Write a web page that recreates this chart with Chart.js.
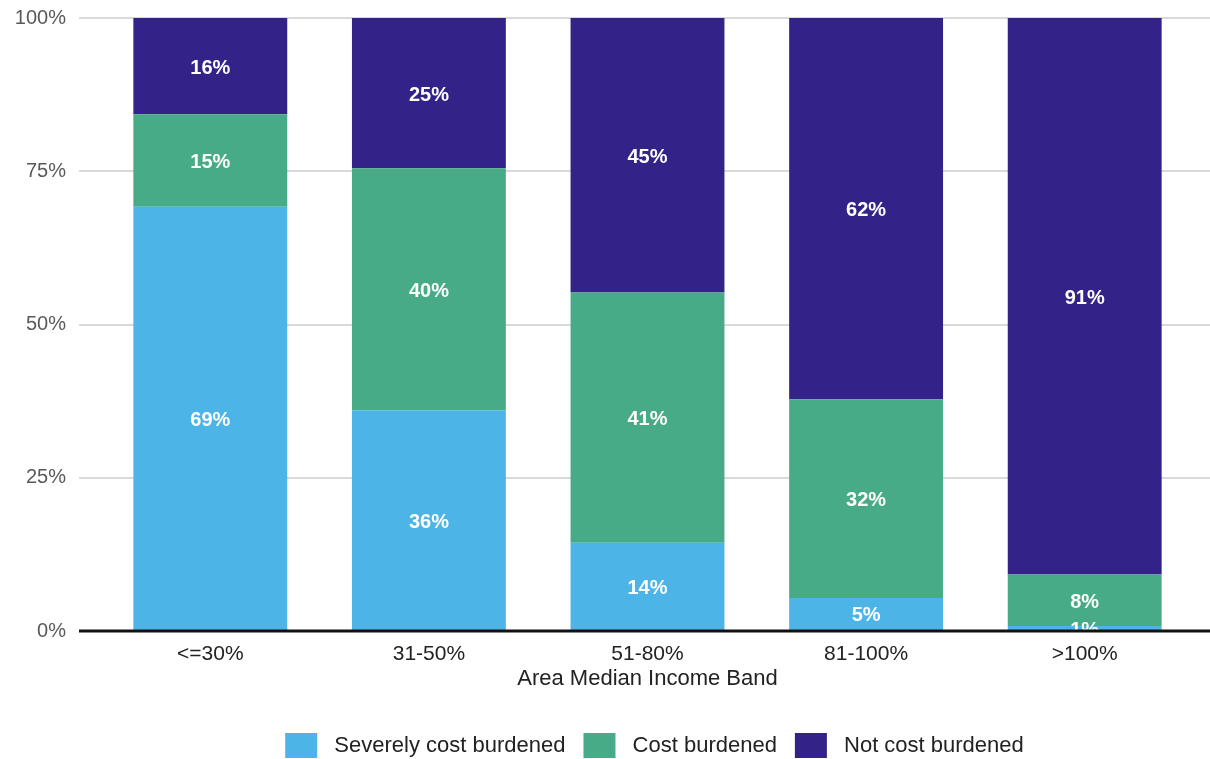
<!DOCTYPE html>
<html>
<head>
<meta charset="utf-8">
<script src="https://cdn.jsdelivr.net/npm/chart.js@4.4.1/dist/chart.umd.min.js"></script>
<style>
    html, body { margin: 0; padding: 0; background: #fff; }
    #wrap { width: 1210px; height: 759px; }
</style>
</head>
<body>
<div id="wrap"><canvas id="grafico"></canvas></div>
<script>
// Datos (porcentaje de hogares por banda de ingreso)
const bandas = ['<=30%', '31-50%', '51-80%', '81-100%', '>100%'];
const severos = [69.2, 36.0, 14.4, 5.4, 0.8];
const cargados = [15.1, 39.5, 40.8, 32.4, 8.4];
const noCargados = [15.7, 24.5, 44.8, 62.2, 90.8];
const ticksY = [0, 25, 50, 75, 100];

const colores = ['#4db4e7', '#48ab87', '#332287'];
const nombres = ['Severely cost burdened', 'Cost burdened', 'Not cost burdened'];
const fuente = '"Liberation Sans", Arial, sans-serif';

// mismo redondeo que usa Chart.js para las líneas de la cuadrícula
function alinear(px, ancho) {
    const medio = ancho / 2;
    return Math.round(px - medio) + medio;
}

// Etiquetas blancas centradas en cada segmento + línea del eje
const etiquetasPlugin = {
    id: 'etiquetas',
    afterLayout(chart) {
        // la leyenda del original está un poco corrida a la derecha
        chart.legend.left += 7;
        chart.legend.right += 7;
    },
    beforeDatasetsDraw(chart) {
        // prolongar la cuadrícula hasta el borde derecho
        const ctx = chart.ctx;
        const area = chart.chartArea;
        ctx.save();
        ctx.strokeStyle = '#d9d9d9';
        ctx.lineWidth = 2;
        ticksY.forEach(v => {
            const y = alinear(chart.scales.y.getPixelForValue(v), 2);
            ctx.beginPath();
            ctx.moveTo(area.right - 1, y);
            ctx.lineTo(chart.width, y);
            ctx.stroke();
        });
        ctx.restore();
    },
    afterDatasetsDraw(chart) {
        const ctx = chart.ctx;
        const area = chart.chartArea;
        ctx.save();
        ctx.beginPath();
        ctx.rect(area.left, area.top, area.right - area.left, area.bottom - area.top);
        ctx.clip();
        ctx.fillStyle = '#ffffff';
        ctx.font = 'bold 20px ' + fuente;
        ctx.textAlign = 'center';
        ctx.textBaseline = 'middle';
        chart.data.datasets.forEach((ds, i) => {
            chart.getDatasetMeta(i).data.forEach((bar, j) => {
                const y = (bar.y + bar.base) / 2;
                ctx.fillText(Math.round(ds.data[j]) + '%', bar.x, y + 2);
            });
        });
        ctx.restore();

        const yCero = chart.scales.y.getPixelForValue(0);
        ctx.save();
        ctx.strokeStyle = '#111111';
        ctx.lineWidth = 3;
        ctx.beginPath();
        ctx.moveTo(area.left - 22, yCero);
        ctx.lineTo(chart.width, yCero);
        ctx.stroke();
        ctx.restore();
    }
};

const ctx = document.getElementById('grafico').getContext('2d');
new Chart(ctx, {
    type: 'bar',
    data: {
        labels: bandas,
        datasets: [
            { label: nombres[0], data: severos, backgroundColor: colores[0] },
            { label: nombres[1], data: cargados, backgroundColor: colores[1] },
            { label: nombres[2], data: noCargados, backgroundColor: colores[2] }
        ].map(d => Object.assign(d, { barPercentage: 0.704, categoryPercentage: 1, borderWidth: 0 }))
    },
    options: {
        responsive: true,
        maintainAspectRatio: false,
        animation: false,
        layout: { autoPadding: false, padding: { top: 18, right: 16, bottom: -9, left: 0 } },
        scales: {
            x: {
                stacked: true,
                afterFit(scale) { scale.height = 84; },
                grid: { display: false, drawTicks: false },
                border: { display: false },
                ticks: {
                    padding: 11,
                    color: '#222222',
                    font: { family: fuente, size: 21 }
                },
                title: {
                    display: true,
                    text: 'Area Median Income Band',
                    color: '#222222',
                    padding: { top: 0, bottom: 23 },
                    font: { family: fuente, size: 22 }
                }
            },
            y: {
                stacked: true,
                min: 0,
                max: 100,
                afterFit(scale) {
                    scale.width = 101;
                    scale.paddingTop = 0;
                    scale.paddingBottom = 0;
                },
                afterBuildTicks(scale) { scale.ticks = ticksY.map(v => ({ value: v })); },
                grid: { color: '#d9d9d9', lineWidth: 2, tickLength: 22 },
                border: { display: false },
                ticks: {
                    padding: 13,
                    color: '#595959',
                    font: { family: fuente, size: 20 },
                    callback: v => v + '%'
                }
            }
        },
        plugins: {
            legend: {
                position: 'bottom',
                fullSize: false,
                labels: {
                    boxWidth: 32,
                    boxHeight: 25,
                    padding: 18,
                    color: '#222222',
                    font: { family: fuente, size: 22 },
                    generateLabels(chart) {
                        const base = Chart.defaults.plugins.legend.labels.generateLabels(chart);
                        return base.map(l => Object.assign(l, { text: ' ' + l.text, lineWidth: 0 }));
                    }
                }
            },
            tooltip: { enabled: false }
        }
    },
    plugins: [etiquetasPlugin]
});
</script>
</body>
</html>
